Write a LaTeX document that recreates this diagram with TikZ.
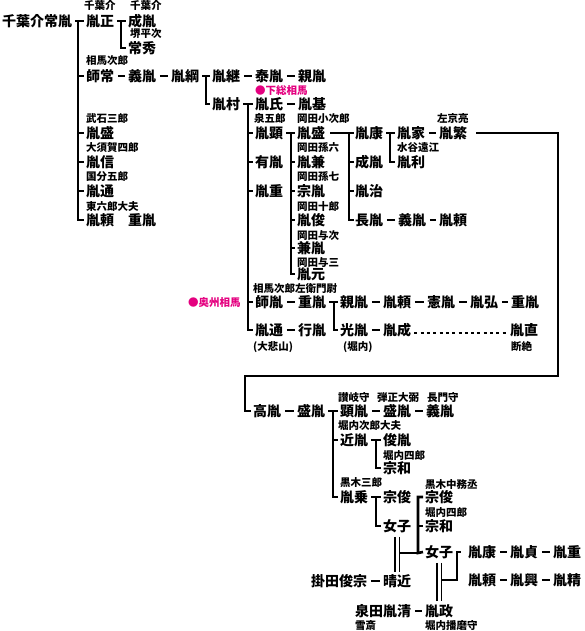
\documentclass[tikz,border=0pt]{standalone}
\usepackage{fontspec}
\newfontfamily\jp{Noto Sans CJK JP}
\usetikzlibrary{calc}
\definecolor{mag}{HTML}{E4007F}
\begin{document}
\begin{tikzpicture}[x=1pt,y=-1pt,
  nm/.style={font=\jp\bfseries\fontsize{14}{16}\selectfont, inner sep=0pt, anchor=west, text height=12pt, text depth=1.5pt},
  lb/.style={font=\jp\bfseries\fontsize{10.5}{12}\selectfont, inner sep=0pt, anchor=west, text height=9pt, text depth=1pt},
  ln/.style={line width=2.6pt},
  dsh/.style={line width=2.6pt, shorten <=3.5pt, shorten >=3.5pt},
  dbl/.style={line width=1.3pt},
  dotln/.style={line width=2pt, dash pattern=on 3pt off 3.3pt}
]
\useasboundingbox (0,0) rectangle (584,631);
% ---- main names
\node[nm] (a0) at (2,21) {千葉介常胤};
\node[nm] (a1) at (86,21) {胤正};
\node[nm] (a1a) at (128,21) {成胤};
\node[nm] (a1b) at (128,48) {常秀};
\node[nm] (a2) at (86,76) {師常};
\node[nm] (a2a) at (128,76) {義胤};
\node[nm] (a2b) at (171,76) {胤綱};
\node[nm] (b1) at (212,76) {胤継};
\node[nm] (b1a) at (255,76) {泰胤};
\node[nm] (b1b) at (298,76) {親胤};
\node[nm] (b2) at (212,104) {胤村};
\node[nm] (c1) at (255,104) {胤氏};
\node[nm] (c1a) at (298,104) {胤基};
\node[nm] (c2) at (255,133) {胤顕};
\node[nm] (c3) at (255,162) {有胤};
\node[nm] (c4) at (255,191) {胤重};
\node[nm] (c5) at (255,302) {師胤};
\node[nm] (c6) at (255,330) {胤通};
\node[nm] (d1) at (297,133) {胤盛};
\node[nm] (d2) at (297,162) {胤兼};
\node[nm] (d3) at (297,191) {宗胤};
\node[nm] (d4) at (297,220) {胤俊};
\node[nm] (d5) at (297,248) {兼胤};
\node[nm] (d6) at (297,274) {胤元};
\node[nm] (e1) at (355,133) {胤康};
\node[nm] (e2) at (355,162) {成胤};
\node[nm] (e3) at (355,191) {胤治};
\node[nm] (e4) at (355,220) {長胤};
\node[nm] (e4a) at (398,220) {義胤};
\node[nm] (e4b) at (439,220) {胤頼};
\node[nm] (f1) at (397,133) {胤家};
\node[nm] (f1a) at (439,133) {胤繁};
\node[nm] (f2) at (397,162) {胤利};
\node[nm] (a3) at (86,133) {胤盛};
\node[nm] (a4) at (86,162) {胤信};
\node[nm] (a5) at (86,191) {胤通};
\node[nm] (a6) at (86,220) {胤頼};
\node[nm] (a6x) at (128,220) {重胤};
\node[nm] (g1) at (298,302) {重胤};
\node[nm] (h1) at (340,302) {親胤};
\node[nm] (h1a) at (383,302) {胤頼};
\node[nm] (h1b) at (427,302) {憲胤};
\node[nm] (h1c) at (470,302) {胤弘};
\node[nm] (h1d) at (511,302) {重胤};
\node[nm] (g2) at (298,330) {行胤};
\node[nm] (h2) at (340,330) {光胤};
\node[nm] (h2a) at (383,330) {胤成};
\node[nm] (h2b) at (510,330) {胤直};
% lower part
\node[nm] (k0) at (253,411) {高胤};
\node[nm] (k1) at (297,411) {盛胤};
\node[nm] (l1) at (340,411) {顕胤};
\node[nm] (l1a) at (383,411) {盛胤};
\node[nm] (l1b) at (426,411) {義胤};
\node[nm] (l2) at (340,440) {近胤};
\node[nm] (m1) at (383,440) {俊胤};
\node[nm] (m2) at (383,468) {宗和};
\node[nm] (l3) at (340,497) {胤乗};
\node[nm] (n1) at (383,497) {宗俊};
\node[nm] (n2) at (383,526) {女子};
\node[nm] (p1) at (425,497) {宗俊};
\node[nm] (p2) at (425,526) {宗和};
\node[nm] (p3) at (425,552) {女子};
\node[nm] (q1) at (311,581) {掛田俊宗};
\node[nm] (q2) at (383,581) {晴近};
\node[nm] (r1) at (468,552) {胤康};
\node[nm] (r1a) at (510,552) {胤貞};
\node[nm] (r1b) at (553,552) {胤重};
\node[nm] (r2) at (468,580) {胤頼};
\node[nm] (r2a) at (510,580) {胤興};
\node[nm] (r2b) at (553,580) {胤精};
\node[nm] (s1) at (355,611) {泉田胤清};
\node[nm] (s2) at (425,611) {胤政};
% ---- small labels
\node[lb] (t1) at (84,6) {千葉介};
\node[lb] (t2) at (130,6) {千葉介};
\node[lb] (t3) at (130,34) {堺平次};
\node[lb] (t4) at (86,61) {相馬次郎};
\node[lb] (t5) at (86,119) {武石三郎};
\node[lb] (t6) at (86,148) {大須賀四郎};
\node[lb] (t7) at (86,177) {国分五郎};
\node[lb] (t8) at (86,206) {東六郎大夫};
\node[lb,text=mag] (t9) at (255,91) {●下総相馬};
\node[lb] (t10) at (254,119) {泉五郎};
\node[lb] (t11) at (297,119) {岡田小次郎};
\node[lb] (t12) at (297,148) {岡田孫六};
\node[lb] (t13) at (297,177) {岡田孫七};
\node[lb] (t14) at (297,206) {岡田十郎};
\node[lb] (t15) at (297,235) {岡田与次};
\node[lb] (t16) at (297,262) {岡田与三};
\node[lb] (t17) at (437,119) {左京亮};
\node[lb] (t18) at (397,148) {水谷遠江};
\node[lb] (t19) at (253,288) {相馬次郎左衛門尉};
\node[lb,text=mag] (t20) at (188,302) {●奥州相馬};
\node[lb] (t21) at (253,346) {(大悲山)};
\node[lb] (t22) at (343,346) {(堀内)};
\node[lb] (t23) at (511,346) {断絶};
\node[lb] (t24) at (338,397) {讃岐守};
\node[lb] (t25) at (377,397) {弾正大弼};
\node[lb] (t26) at (427,397) {長門守};
\node[lb] (t27) at (338,425) {堀内次郎大夫};
\node[lb] (t28) at (383,455) {堀内四郎};
\node[lb] (t29) at (340,482) {黒木三郎};
\node[lb] (t30) at (425,484) {黒木中務丞};
\node[lb] (t31) at (425,512) {堀内四郎};
\node[lb] (t32) at (355,625) {雪斎};
\node[lb] (t33) at (425,625) {堀内播磨守};
% ---- tree connectors
\coordinate (v1) at (78,21);
\draw[ln] ([xshift=3pt]a0.east) -- ([xshift=-2pt]a1.west);
\draw[ln] (v1) |- ([xshift=-2pt]a6.west);
\foreach \c in {a2,a3,a4,a5} \draw[ln] (v1 |- \c) -- ([xshift=-2pt]\c.west);
\coordinate (v2) at (121,21);
\draw[ln] ([xshift=3pt]a1.east) -- ([xshift=-2pt]a1a.west);
\draw[ln] (v2) |- ([xshift=-2pt]a1b.west);
\coordinate (v3) at (206,76);
\draw[ln] ([xshift=3pt]a2b.east) -- ([xshift=-2pt]b1.west);
\draw[ln] (v3) |- ([xshift=-2pt]b2.west);
\coordinate (v4) at (248,104);
\draw[ln] ([xshift=3pt]b2.east) -- ([xshift=-2pt]c1.west);
\draw[ln] (v4) |- ([xshift=-2pt]c6.west);
\foreach \c in {c2,c3,c4,c5} \draw[ln] (v4 |- \c) -- ([xshift=-2pt]\c.west);
\coordinate (v5) at (291,133);
\draw[ln] ([xshift=3pt]c2.east) -- ([xshift=-2pt]d1.west);
\draw[ln] (v5) |- ([xshift=-2pt]d6.west);
\foreach \c in {d2,d3,d4,d5} \draw[ln] (v5 |- \c) -- ([xshift=-2pt]\c.west);
\coordinate (v6) at (349,133);
\draw[ln] ([xshift=5pt]d1.east) -- ([xshift=-1pt]e1.west);
\draw[ln] (v6) |- ([xshift=-1pt]e4.west);
\foreach \c in {e2,e3} \draw[ln] (v6 |- \c) -- ([xshift=-1pt]\c.west);
\coordinate (v7) at (390,133);
\draw[ln] ([xshift=3pt]e1.east) -- ([xshift=-2pt]f1.west);
\draw[ln] (v7) |- ([xshift=-2pt]f2.west);
\coordinate (v8) at (334,302);
\draw[ln] ([xshift=3pt]g1.east) -- ([xshift=-2pt]h1.west);
\draw[ln] (v8) |- ([xshift=-2pt]h2.west);
% long connector
\coordinate (w1) at (558,133);
\coordinate (w2) at (558,376);
\coordinate (w3) at (245,376);
\draw[ln] ([xshift=9pt]f1a.east) -- (w1) -- (w2) -- (w3) |- ([xshift=-2pt]k0.west);
\coordinate (v9) at (333,411);
\draw[ln] ([xshift=3pt]k1.east) -- ([xshift=-2pt]l1.west);
\draw[ln] (v9) |- ([xshift=-2pt]l3.west);
\draw[ln] (v9 |- l2) -- ([xshift=-2pt]l2.west);
\coordinate (v10) at (376,440);
\draw[ln] ([xshift=3pt]l2.east) -- ([xshift=-2pt]m1.west);
\draw[ln] (v10) |- ([xshift=-2pt]m2.west);
\coordinate (v11) at (376,497);
\draw[ln] ([xshift=3pt]l3.east) -- ([xshift=-2pt]n1.west);
\draw[ln] (v11) |- ([xshift=-2pt]n2.west);
\coordinate (v12) at (418,553);
\draw[ln] ([xshift=-2pt]p1.west) -| (v12) -- ([xshift=-2pt]p3.west);
\draw[ln] (v12 |- p2) -- ([xshift=-2pt]p2.west);
\draw[ln] ($(n2.south |- v12)+(2.2,0)$) -- (v12);
\draw[dbl, shorten <=4pt, shorten >=2pt, transform canvas={xshift=-2.2pt}] (n2.south) -- (q2.north);
\draw[dbl, shorten <=4pt, shorten >=2pt, transform canvas={xshift=2.2pt}] (n2.south) -- (q2.north);
\coordinate (v13) at (457,580);
\draw[ln] ($(p3.south |- v13)+(2.2,0)$) -- (v13) |- ([xshift=-7pt]r1.west);
\draw[dbl, shorten <=4pt, shorten >=3pt, transform canvas={xshift=-2.2pt}] (p3.south) -- (s2.north);
\draw[dbl, shorten <=4pt, shorten >=3pt, transform canvas={xshift=2.2pt}] (p3.south) -- (s2.north);
% ---- dashes between names
\foreach \p/\q in {a2/a2a,a2a/a2b,b1/b1a,b1a/b1b,c1/c1a,e4/e4a,e4a/e4b,f1/f1a,c5/g1,c6/g2,h1/h1a,h1a/h1b,h1b/h1c,h1c/h1d,h2/h2a,k0/k1,l1/l1a,l1a/l1b,r1/r1a,r1a/r1b,r2/r2a,r2a/r2b,q1/q2,s1/s2}
  \draw[dsh] (\p) -- (\q);
\draw[dotln] ([xshift=3pt,yshift=-3pt]h2a.east) -- ([xshift=-2pt,yshift=-3pt]h2b.west);
\end{tikzpicture}
\end{document}
